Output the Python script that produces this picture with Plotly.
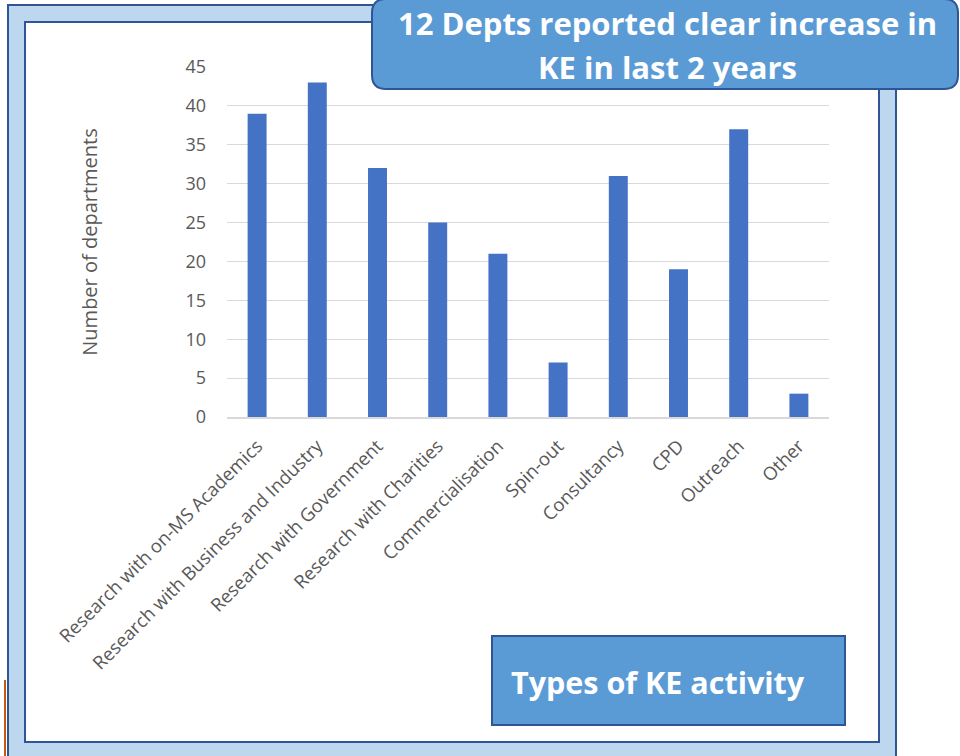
import plotly.graph_objects as go

categories = [
    "Research with on-MS Academics",
    "Research with Business and Industry",
    "Research with Government",
    "Research with Charities",
    "Commercialisation",
    "Spin-out",
    "Consultancy",
    "CPD",
    "Outreach",
    "Other",
]
departments = [39, 43, 32, 25, 21, 7, 31, 19, 37, 3]
y_ticks = [0, 5, 10, 15, 20, 25, 30, 35, 40, 45]

W, H = 960, 756
L, R, T, B = 227, 131, 67, 339
PW, PH = W - L - R, H - T - B

def px(x):
    return (x - L) / PW

def py(y):
    return (T + PH - y) / PH

DARK = "#2F5597"
LIGHT = "#BDD7EE"
FILL = "#5B9BD5"
GREY = "#595959"

fig = go.Figure(
    go.Bar(
        x=categories,
        y=departments,
        marker=dict(color="#4472C4", line=dict(width=0)),
        hoverinfo="x+y",
    )
)

def rounded(x0, y0, x1, y1, r):
    X0, X1 = px(x0), px(x1)
    Y0, Y1 = py(y0), py(y1)
    rx, ry = r / PW, r / PH
    return (
        f"M {X0+rx},{Y0} L {X1-rx},{Y0} Q {X1},{Y0} {X1},{Y0-ry} "
        f"L {X1},{Y1+ry} Q {X1},{Y1} {X1-rx},{Y1} "
        f"L {X0+rx},{Y1} Q {X0},{Y1} {X0},{Y1+ry} "
        f"L {X0},{Y0-ry} Q {X0},{Y0} {X0+rx},{Y0} Z"
    )

shapes = [
    dict(type="rect", xref="paper", yref="paper", layer="below",
         x0=px(8), x1=px(896), y0=py(5), y1=py(770),
         fillcolor=LIGHT, line=dict(color=DARK, width=2)),
    dict(type="rect", xref="paper", yref="paper", layer="below",
         x0=px(25), x1=px(879), y0=py(22), y1=py(742),
         fillcolor="white", line=dict(color=DARK, width=2)),
    dict(type="line", xref="paper", yref="paper", layer="below",
         x0=px(5), x1=px(5), y0=py(680), y1=py(760),
         line=dict(color="#C55A11", width=2)),
    dict(type="path", xref="paper", yref="paper", layer="above",
         path=rounded(372, -1, 958, 89, 14),
         fillcolor=FILL, line=dict(color=DARK, width=2)),
    dict(type="rect", xref="paper", yref="paper", layer="above",
         x0=px(492), x1=px(845), y0=py(636), y1=py(725),
         fillcolor=FILL, line=dict(color=DARK, width=2)),
]

title_font = dict(family="Open Sans", size=31, color="white", weight="bold")
annotations = [
    dict(xref="paper", yref="paper", x=px(667), y=py(23),
         text="12 Depts reported clear increase in",
         showarrow=False, xanchor="center", yanchor="middle", font=title_font),
    dict(xref="paper", yref="paper", x=px(667), y=py(67),
         text="KE in last 2 years",
         showarrow=False, xanchor="center", yanchor="middle", font=title_font),
    dict(xref="paper", yref="paper", x=px(509), y=py(682),
         text="Types of KE activity", showarrow=False,
         xanchor="left", yanchor="middle",
         font=dict(family="Open Sans", size=30.5, color="white", weight="bold")),
]

fig.update_layout(
    width=W, height=H, autosize=False,
    margin=dict(l=L, r=R, t=T, b=B, pad=0),
    paper_bgcolor="white",
    plot_bgcolor="rgba(0,0,0,0)",
    bargap=0.685,
    showlegend=False,
    shapes=shapes,
    annotations=annotations,
    font=dict(family="Open Sans", color=GREY),
)

fig.update_yaxes(
    range=[0, 45], tickvals=y_ticks, ticktext=[str(v) for v in y_ticks],
    showgrid=True, gridcolor="#D9D9D9", gridwidth=1,
    zeroline=False, showline=False, ticks="", ticklabelstandoff=20,
    tickfont=dict(family="Open Sans", size=18, color=GREY),
    title=dict(text="Number of departments", standoff=82,
               font=dict(family="Open Sans", size=20, color=GREY)),
)
fig.update_xaxes(
    tickangle=-45, showline=True, linecolor="#D9D9D9", linewidth=2,
    ticks="", showgrid=False, ticklabelstandoff=9,
    tickfont=dict(family="Open Sans", size=18.5, color=GREY),
)

fig.write_html("out.html", config={"displayModeBar": False},
               post_script="document.body.style.margin='0';")
